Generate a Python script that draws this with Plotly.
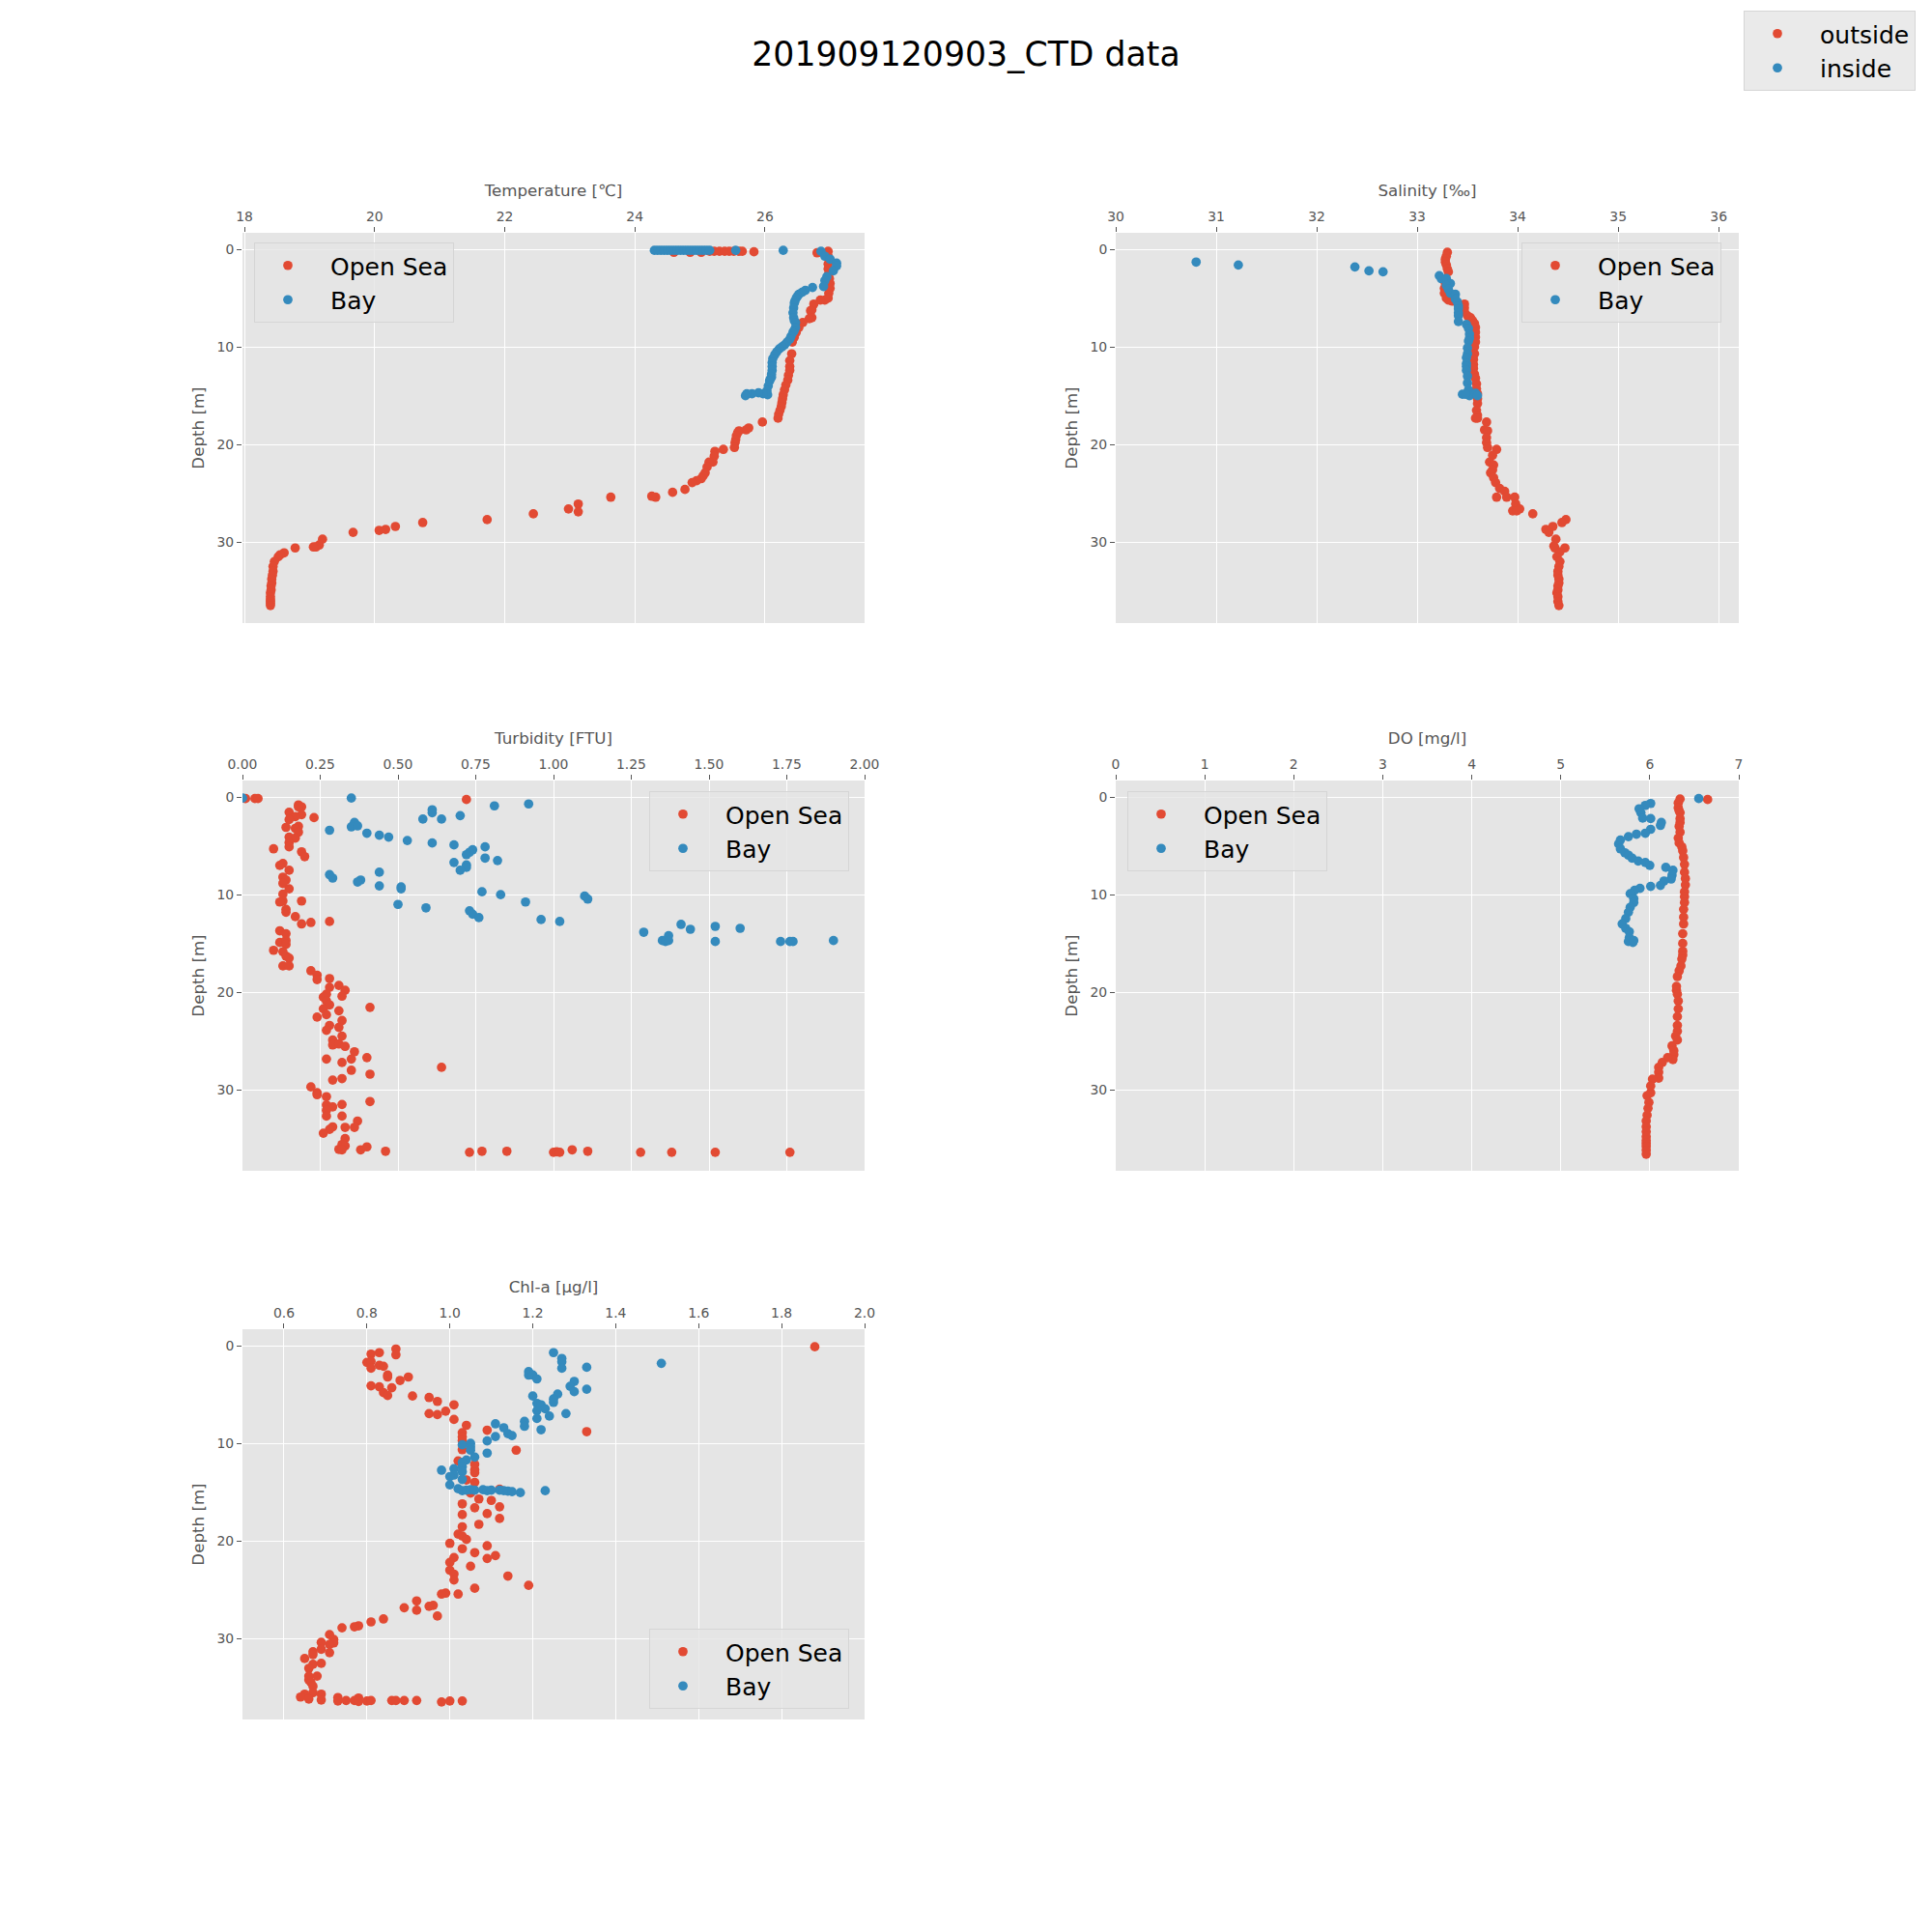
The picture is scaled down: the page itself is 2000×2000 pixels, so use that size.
import plotly.graph_objects as go

RED = "#E24A33"
BLUE = "#348ABD"

temp_open_x = [24.6,24.85,25.02,25.15,25.22,25.3,25.38,25.45,25.52,25.6,25.65,25.83,26.8,26.97,26.97,26.98,26.97,26.97,26.98,26.99,27.0,27.0,26.98,26.97,26.92,26.85,26.75,26.72,26.7,26.72,26.68,26.58,26.52,26.48,26.45,26.42,26.41,26.38,26.38,26.38,26.36,26.35,26.32,26.3,26.28,26.27,26.26,26.25,26.23,26.21,26.2,25.96,25.75,25.71,25.6,25.58,25.56,25.55,25.54,25.53,25.36,25.23,25.22,25.2,25.14,25.11,25.08,25.05,25.02,24.95,24.88,24.77,24.58,24.32,24.26,23.63,23.13,23.13,22.98,22.44,21.73,20.74,20.32,20.17,20.07,19.67,19.2,19.15,19.1,19.06,18.78,18.61,18.55,18.52,18.46,18.44,18.44,18.43,18.42,18.42,18.41,18.41,18.4,18.4,18.4,18.4,18.4,18.4]
temp_open_depth = [0.3,0.3,0.3,0.2,0.2,0.2,0.2,0.2,0.2,0.2,0.2,0.25,0.35,0.2,0.7,1.0,1.5,2.0,2.5,3.0,3.5,4.0,4.5,5.0,5.2,5.2,5.6,6.2,6.3,7.0,7.1,7.5,8.0,8.5,9.0,9.5,10.7,11.4,12.0,12.4,12.9,13.4,13.9,14.4,14.9,15.3,15.7,16.1,16.5,16.9,17.3,17.7,18.3,18.5,18.6,18.8,19.1,19.5,19.8,20.3,20.5,20.7,21.2,21.8,21.8,22.3,22.9,23.2,23.5,23.7,23.9,24.6,24.9,25.4,25.3,25.4,26.1,26.9,26.6,27.1,27.7,28.0,28.4,28.7,28.8,29.0,29.7,30.3,30.5,30.5,30.6,31.1,31.3,31.5,32.0,32.5,33.0,33.4,33.8,34.2,34.5,34.9,35.2,35.6,35.9,36.1,36.3,36.5]
temp_bay_x = [24.3,24.35,24.4,24.45,24.5,24.55,24.6,24.65,24.7,24.75,24.8,24.85,24.9,24.95,25.0,25.05,25.1,25.15,25.55,26.28,26.86,26.92,27.0,27.1,27.1,27.05,26.95,26.92,26.9,26.73,26.62,26.57,26.52,26.5,26.48,26.46,26.45,26.44,26.43,26.44,26.45,26.47,26.47,26.45,26.43,26.4,26.38,26.34,26.3,26.26,26.22,26.18,26.15,26.12,26.11,26.11,26.11,26.1,26.1,26.08,26.07,26.05,26.03,26.04,25.97,25.9,25.8,25.72,25.7]
temp_bay_depth = [0.1,0.1,0.1,0.1,0.1,0.1,0.1,0.1,0.1,0.1,0.1,0.1,0.1,0.1,0.1,0.1,0.1,0.1,0.1,0.1,0.2,0.7,1.0,1.4,1.7,2.2,2.8,3.2,3.8,3.9,4.2,4.4,4.6,4.8,5.0,5.3,5.5,6.0,6.5,7.0,7.3,7.5,8.0,8.3,8.5,8.9,9.2,9.5,9.8,10.0,10.2,10.5,10.8,11.2,11.6,12.0,12.4,12.8,13.1,13.3,13.5,14.0,14.5,14.9,14.8,14.7,14.8,14.8,15.0]

sal_open_x = [33.3,33.29,33.28,33.28,33.29,33.3,33.31,33.28,33.27,33.27,33.29,33.31,33.35,33.47,33.47,33.47,33.5,33.53,33.55,33.57,33.58,33.58,33.58,33.58,33.57,33.57,33.56,33.56,33.56,33.57,33.58,33.59,33.59,33.6,33.6,33.6,33.59,33.6,33.58,33.6,33.69,33.67,33.7,33.69,33.69,33.7,33.79,33.75,33.72,33.76,33.75,33.73,33.76,33.78,33.82,33.87,33.89,33.79,33.97,33.98,34.02,33.95,33.99,34.15,34.48,34.44,34.35,34.28,34.31,34.38,34.36,34.47,34.37,34.42,34.39,34.42,34.41,34.4,34.4,34.41,34.41,34.4,34.4,34.39,34.4,34.4,34.41]
sal_open_depth = [0.3,0.7,1.0,1.3,1.6,2.0,2.3,3.5,4.0,4.5,5.0,5.2,5.3,5.6,6.0,6.4,6.8,7.0,7.3,7.6,8.0,8.5,9.0,9.5,10.0,10.7,11.3,11.8,12.2,12.8,13.2,13.8,14.3,14.8,15.3,15.8,16.5,17.0,17.3,17.3,17.7,18.5,18.6,19.3,19.8,20.3,20.5,21.1,21.8,22.1,22.6,22.9,23.4,23.9,24.5,24.8,25.4,25.4,25.4,26.1,26.6,26.8,26.8,27.1,27.7,28.0,28.4,28.7,29.0,29.7,30.4,30.6,30.6,31.0,31.5,32.0,32.5,33.0,33.4,33.8,34.2,34.5,34.9,35.2,35.6,36.1,36.5]
sal_bay_x = [30.8,31.22,32.38,32.52,32.66,33.22,33.24,33.29,33.33,33.29,33.31,33.33,33.38,33.38,33.4,33.41,33.41,33.41,33.41,33.41,33.49,33.51,33.52,33.52,33.51,33.5,33.5,33.49,33.49,33.49,33.49,33.5,33.5,33.51,33.45,33.52,33.48,33.58,33.6]
sal_bay_depth = [1.3,1.6,1.8,2.2,2.3,2.7,3.0,3.0,3.5,3.7,4.1,4.5,4.6,5.1,5.4,5.8,6.1,6.5,6.8,7.4,7.7,8.1,8.7,9.1,9.4,10.1,10.7,11.1,11.7,12.0,12.4,13.0,13.7,14.4,14.85,15.0,14.85,14.75,15.0]

turb_open_x = [.01,.04,.05,.72,.18,.19,.18,.15,.19,.17,.23,.15,.18,.14,.17,.18,.15,.17,.15,.15,.1,.19,.2,.13,.12,.15,.13,.14,.13,.15,.13,.13,.12,.19,.14,.14,.17,.19,.22,.28,.12,.14,.12,.14,.14,.1,.13,.14,.15,.13,.15,.22,.24,.24,.28,.31,.28,.33,.32,.27,.26,.27,.28,.41,.26,.31,.27,.24,.32,.28,.31,.27,.32,.29,.29,.31,.33,.36,.4,.35,.27,.32,.64,.35,.41,.32,.29,.22,.24,.24,.27,.41,.32,.27,.29,.27,.27,.32,.37,.33,.36,.29,.28,.26,.33,.32,.33,.31,.32,.38,.4,.46,.73,.77,.85,1.0,1.01,1.02,1.06,1.11,1.28,1.38,1.52,1.76]
turb_open_depth = [.15,.15,.15,.25,.8,1.0,1.0,1.55,1.8,2.0,2.1,2.3,3.0,3.1,3.2,3.6,4.1,4.2,4.65,5.1,5.3,5.6,6.1,6.8,7.0,7.5,8.2,8.5,8.85,9.4,9.95,10.65,10.75,10.65,11.5,11.8,12.25,13.0,12.85,12.75,13.7,14.0,14.9,14.7,15.1,15.7,15.85,16.3,16.5,17.3,17.3,17.8,18.25,18.7,18.6,19.3,19.5,19.8,20.4,20.2,20.5,20.9,21.3,21.55,21.7,21.9,22.3,22.55,22.9,23.4,23.6,23.9,24.5,24.9,25.4,25.3,25.55,26.1,26.7,26.85,26.85,27.2,27.7,28.0,28.4,28.85,29.0,29.7,30.3,30.5,30.7,31.2,31.5,31.55,31.75,32.1,32.7,32.7,33.2,33.85,33.85,33.8,34.05,34.45,35.0,35.6,35.75,36.1,36.15,36.15,35.85,36.3,36.4,36.3,36.3,36.4,36.35,36.4,36.15,36.3,36.4,36.4,36.4,36.4]
turb_bay_x = [0,.35,.92,.81,.61,.61,.7,.58,.64,.36,.35,.37,.28,.4,.44,.47,.53,.61,.68,.78,.74,.73,.72,.78,.82,.68,.72,.72,.7,.44,.28,.29,.38,.37,.44,.51,.51,.77,.83,1.1,1.11,.91,.5,.59,.73,.74,.76,.96,1.02,1.41,1.52,1.6,1.44,1.29,1.37,1.35,1.36,1.37,1.52,1.73,1.76,1.77,1.9]
turb_bay_depth = [.1,.1,.7,.9,1.3,1.6,1.9,2.25,2.25,2.6,3.05,2.95,3.4,3.7,3.9,4.1,4.45,4.7,4.9,5.1,5.4,5.65,5.9,6.25,6.5,6.7,6.95,7.2,7.5,7.7,7.95,8.3,8.5,8.7,9.1,9.2,9.4,9.7,10.0,10.15,10.45,10.75,11.0,11.35,11.65,12.0,12.35,12.55,12.75,13.05,13.25,13.45,13.55,13.85,14.2,14.7,14.8,14.7,14.8,14.8,14.8,14.8,14.7]

do_open_x = [6.65,6.34,6.32,6.32,6.33,6.34,6.34,6.34,6.33,6.34,6.32,6.33,6.36,6.37,6.38,6.39,6.39,6.4,6.4,6.39,6.39,6.39,6.38,6.38,6.38,6.37,6.37,6.37,6.37,6.36,6.35,6.33,6.31,6.3,6.3,6.31,6.32,6.32,6.31,6.31,6.31,6.29,6.31,6.25,6.27,6.27,6.26,6.2,6.14,6.1,6.1,6.1,6.03,6.01,6.01,5.97,5.99,5.98,5.97,5.96,5.96,5.96,5.96,5.96,5.96,5.96,5.96,5.96]
do_open_depth = [.25,.2,.6,1.1,1.4,1.6,2.2,2.6,3.0,3.6,4.2,4.7,5.1,5.5,6.2,6.9,7.7,8.35,9.0,9.7,10.2,10.8,11.5,12.3,13.0,14.0,15.0,15.8,16.2,16.6,17.3,17.8,18.4,19.4,19.8,20.2,20.9,21.7,22.5,23.4,24.0,24.5,24.9,25.5,26.0,26.4,26.9,26.7,27.2,27.7,28.2,28.8,28.9,29.6,30.3,30.6,31.3,31.9,32.6,33.2,33.8,34.3,34.8,35.2,35.5,35.8,36.2,36.6]
do_bay_x = [6.55,6.01,5.95,5.88,5.9,5.92,6.01,6.13,6.12,6.01,5.95,5.85,5.76,5.67,5.65,5.67,5.72,5.76,5.8,5.87,5.95,6.0,6.18,6.26,6.25,6.24,6.16,6.12,6.01,5.89,5.83,5.78,5.82,5.82,5.78,5.76,5.73,5.69,5.73,5.77,5.77,5.76,5.81,5.82]
do_bay_depth = [.15,.65,.85,1.2,1.6,2.15,2.2,2.6,2.9,3.3,3.7,3.8,4.05,4.4,4.8,5.3,5.7,5.95,6.25,6.55,6.7,7.0,7.2,7.5,8.0,8.4,8.6,9.05,9.15,9.35,9.55,9.9,10.4,10.8,11.3,11.8,12.45,13.0,13.45,13.8,14.4,14.8,14.9,14.7]

chl_open_x = [1.88,.87,.87,.83,.81,.8,.81,.81,.83,.84,.85,.85,.9,.88,.81,.83,.86,.84,.85,.91,.95,.97,1.01,.99,.95,.97,1.01,1.04,1.09,1.03,1.03,1.33,1.03,1.03,1.16,1.02,1.06,1.06,1.06,1.04,1.06,1.12,1.05,1.07,1.1,1.12,1.03,1.06,1.09,1.03,1.12,1.07,1.03,1.02,1.03,1.04,1.0,1.09,1.03,1.06,1.11,1.09,1.01,1.0,1.05,1.0,1.01,1.01,1.14,1.19,1.06,1.02,.99,.98,.92,.96,.95,.89,.92,.97,.84,.81,.78,.77,.74,.71,.72,.72,.71,.69,.69,.71,.67,.67,.65,.69,.67,.66,.68,.66,.66,.665,.67,.67,.65,.64,.66,.69,.69,.73,.73,.75,.77,.78,.78,.8,.81,.86,.87,.89,.92,.98,1.0,1.03]
chl_open_depth = [.1,.33,.92,.7,.85,1.7,1.6,2.3,2.0,2.1,3.0,3.2,3.2,3.55,4.1,4.2,4.3,4.8,5.1,5.15,5.3,5.7,6.05,6.7,6.95,7.05,7.55,8.15,8.65,8.9,9.35,8.8,9.7,10.65,10.7,11.8,12.15,12.7,13.0,13.75,14.0,14.7,15.1,15.7,15.85,16.5,16.2,16.6,17.2,17.3,17.7,18.3,18.55,19.3,19.5,19.85,20.25,20.5,20.8,21.2,21.5,21.8,21.7,22.2,22.6,23.0,23.4,24.0,23.6,24.55,24.85,25.45,25.35,25.45,26.15,26.6,26.7,26.85,27.1,27.7,28.0,28.3,28.7,28.8,28.9,29.6,30.1,30.45,30.6,30.4,31.1,31.45,31.35,31.65,32.05,32.55,32.65,33.05,33.85,33.85,34.25,34.5,34.9,35.55,35.7,36.0,36.2,35.7,36.3,36.05,36.4,36.35,36.35,36.1,36.45,36.4,36.35,36.35,36.35,36.35,36.35,36.5,36.4,36.4]
chl_bay_x = [1.25,1.51,1.27,1.27,1.27,1.33,1.19,1.19,1.2,1.21,1.3,1.29,1.33,1.3,1.26,1.25,1.25,1.2,1.21,1.22,1.23,1.21,1.28,1.24,1.21,1.18,1.18,1.11,1.13,1.22,1.14,1.15,1.11,1.09,1.03,1.05,1.05,1.05,1.09,1.06,1.04,1.03,1.03,1.01,.98,1.03,1.01,1.0,1.03,1.0,1.02,1.03,1.04,1.05,1.06,1.08,1.09,1.1,1.12,1.13,1.14,1.15,1.17,1.23]
chl_bay_depth = [.7,1.8,1.3,1.65,2.3,2.2,2.65,3.0,3.0,3.4,3.65,4.15,4.45,4.7,4.95,5.45,5.8,5.15,5.9,6.05,6.45,6.65,6.95,7.2,7.45,7.75,8.25,8.0,8.4,8.6,9.0,9.2,9.3,9.75,10.15,10.0,10.35,10.7,11.0,11.4,11.7,11.95,12.4,12.6,12.75,12.9,13.25,13.4,13.7,14.25,14.65,14.85,14.8,14.75,14.8,14.75,14.85,14.8,14.8,14.85,14.9,14.95,15.05,14.85]

series_names = ["Open Sea", "Bay"]
figure_names = ["outside", "inside"]
axis_titles = ["Temperature [℃]", "Salinity [‰]", "Turbidity [FTU]", "DO [mg/l]", "Chl-a [µg/l]"]
main_title = "201909120903_CTD data"

S = 2000
MARKER = 9.7
panels = [
    dict(o=(temp_open_x, temp_open_depth), b=(temp_bay_x, temp_bay_depth), r=[17.97, 27.53], dt=2, t0=18, fmt="d", px=(251, 895), py=(241, 645), leg=(263, 251)),
    dict(o=(sal_open_x, sal_open_depth), b=(sal_bay_x, sal_bay_depth), r=[30, 36.2], dt=1, t0=30, fmt="d", px=(1155, 1800), py=(241, 645), leg=(1575, 251)),
    dict(o=(turb_open_x, turb_open_depth), b=(turb_bay_x, turb_bay_depth), r=[0, 2], dt=0.25, t0=0, fmt=".2f", px=(251, 895), py=(808, 1212), leg=(672, 819)),
    dict(o=(do_open_x, do_open_depth), b=(do_bay_x, do_bay_depth), r=[0, 7], dt=1, t0=0, fmt="d", px=(1155, 1800), py=(808, 1212), leg=(1167, 819)),
    dict(o=(chl_open_x, chl_open_depth), b=(chl_bay_x, chl_bay_depth), r=[0.5, 2.0], dt=0.2, t0=0.6, fmt=".1f", px=(251, 895), py=(1376, 1780), leg=(672, 1686)),
]

FONT = "DejaVu Sans"
fig = go.Figure()
layout = dict(
    width=S, height=S, autosize=False,
    margin=dict(l=0, r=0, t=0, b=0, pad=0),
    paper_bgcolor="white", plot_bgcolor="#E5E5E5",
    font=dict(family=FONT, color="#555555", size=14),
    title=dict(text=main_title, x=0.5, xanchor="center", y=1 - 56 / S, yanchor="middle",
               font=dict(family=FONT, size=34.7, color="black")),
    showlegend=True,
)


def legend_style(x, y, entry):
    return dict(x=x / S, y=1 - y / S, xanchor="left", yanchor="top",
                bgcolor="rgba(229,229,229,0.8)", bordercolor="#D5D5D5", borderwidth=1,
                font=dict(family=FONT, size=25, color="black"), itemwidth=78, indentation=-10,
                itemsizing="trace", entrywidth=entry, entrywidthmode="pixels")


for i, p in enumerate(panels):
    n = i + 1
    sx = "" if n == 1 else str(n)
    lg = "legend" if n == 1 else f"legend{n}"
    xa, ya = f"x{sx}", f"y{sx}"
    for (xs, ds), name, col in ((p["o"], series_names[0], RED), (p["b"], series_names[1], BLUE)):
        fig.add_trace(go.Scatter(x=xs, y=ds, mode="markers", name=name, xaxis=xa, yaxis=ya, legend=lg,
                                 marker=dict(color=col, size=MARKER, line=dict(width=0))))
    layout[f"xaxis{sx}"] = dict(
        domain=[p["px"][0] / S, p["px"][1] / S], anchor=ya, side="top", range=p["r"],
        tick0=p["t0"], dtick=p["dt"], tickformat=p["fmt"],
        ticks="outside", ticklen=5, tickwidth=1.1, tickcolor="#555555",
        tickfont=dict(family=FONT, size=13.9, color="#555555"),
        showgrid=True, gridcolor="white", gridwidth=1.2, zeroline=False, showline=False,
        title=dict(text=axis_titles[i], font=dict(family=FONT, size=16.67, color="#555555"), standoff=8),
        automargin=False,
    )
    layout[f"yaxis{sx}"] = dict(
        domain=[1 - p["py"][1] / S, 1 - p["py"][0] / S], anchor=xa, range=[38.3, -1.7],
        tick0=0, dtick=10, ticks="outside", ticklen=5, tickwidth=1.1, tickcolor="#555555",
        tickfont=dict(family=FONT, size=13.9, color="#555555"),
        showgrid=True, gridcolor="white", gridwidth=1.2, zeroline=False, showline=False,
        title=dict(text="Depth [m]", font=dict(family=FONT, size=16.67, color="#555555"), standoff=8),
        automargin=False,
    )
    layout[lg] = legend_style(*p["leg"], 127)

for name, col in zip(figure_names, (RED, BLUE)):
    fig.add_trace(go.Scatter(x=[None], y=[None], mode="markers", name=name, legend="legend6",
                             marker=dict(color=col, size=MARKER, line=dict(width=0))))
layout["legend6"] = legend_style(1805, 11, 100)

fig.update_layout(**layout)
fig.write_html("out.html", config=dict(displayModeBar=False), post_script="document.body.style.margin='0';")
